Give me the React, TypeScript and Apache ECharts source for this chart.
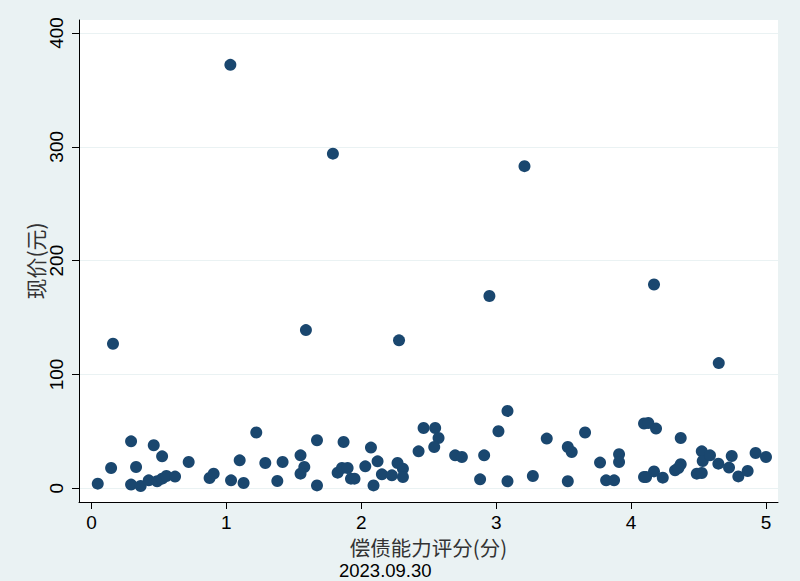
import React, { useEffect, useRef } from "react";
import * as echarts from "echarts";

const scoreX: number[] = [
  0.047, 0.146, 0.294, 0.331, 0.294, 0.365, 0.462, 0.524, 0.425, 0.487, 0.524, 0.556, 0.62, 0.721, 0.876, 0.906,
  1.035, 1.099, 1.128, 1.222, 1.289, 1.378, 1.417, 1.55, 1.578, 1.55, 1.672, 1.672, 1.869, 1.825, 1.857, 1.899, 1.924, 1.95,
  2.03, 2.072, 2.091, 2.121, 2.153, 2.227, 2.269, 2.309, 2.309, 2.425, 2.462, 2.548, 2.573, 2.541, 2.696, 2.746, 2.881, 2.911, 3.017,
  3.084, 3.084, 3.272, 3.375, 3.531, 3.56, 3.531, 3.659, 3.77, 3.815, 3.874, 3.911, 3.911, 4.096, 4.096,
  4.128, 4.185, 4.111, 4.17, 4.235, 4.368, 4.326, 4.368, 4.351, 4.487, 4.524, 4.524, 4.531, 4.585, 4.647, 4.726, 4.746, 4.795, 4.864, 4.923, 5.0,
  1.03, 1.79, 3.21, 2.95, 4.17, 0.16, 1.59, 2.28, 4.65,
];
const priceY: number[] = [
  4.1, 17.9, 41.3, 18.7, 3.3, 2.0, 37.8, 28.1, 7.0, 6.2, 8.5, 10.8, 10.3, 23.1, 9.1, 12.9,
  7.0, 24.6, 4.7, 49, 22.2, 6.4, 23.1, 29, 18.7, 12.9, 42.2, 2.6, 40.7, 13.8, 17.9, 17.9, 8.5, 8.5,
  19.3, 35.8, 2.6, 23.7, 12.3, 11.4, 22.2, 17.3, 9.9, 32.5, 53, 53, 44.2, 36.3, 29, 27.5, 7.9, 29, 50.1,
  68, 6.2, 10.8, 43.7, 36.3, 31.9, 6.2, 49, 22.6, 7.0, 7.0, 29.9, 23.1, 56.9, 9.9,
  57.4, 52.5, 9.9, 14.9, 9.4, 44.2, 15.8, 21.1, 17.9, 12.9, 13.5, 32.5, 24.0, 29, 21.7, 18.2, 28.4, 10.5, 15.2, 31, 27.5,
  372, 294, 283, 169, 179, 127, 139, 130, 110,
];
const xTicks: number[] = [0, 1, 2, 3, 4, 5];
const yTicks: number[] = [0, 100, 200, 300, 400];
const xTitle = "偿债能力评分(分)";
const yTitle = "现价(元)";
const noteText = "2023.09.30";

export default function App() {
  const ref = useRef<HTMLDivElement>(null);
  useEffect(() => {
    if (!ref.current) return;
    const chart = echarts.init(ref.current, null, { renderer: "svg" });
    const data = scoreX.map((x, i) => [x, priceY[i]]);
    chart.setOption({
      animation: false,
      backgroundColor: "#EAF2F3",
      grid: {
        left: 79,
        right: 22,
        top: 20,
        bottom: 79,
        show: true,
        backgroundColor: "#FFFFFF",
        borderWidth: 0,
      },
      title: {
        text: noteText,
        left: 339,
        top: 559,
        padding: 0,
        textStyle: { fontFamily: "Liberation Sans", fontSize: 18.5, fontWeight: "normal", color: "#000", lineHeight: 22 },
      },
      xAxis: {
        type: "value",
        min: -0.092,
        max: 5.089,
        name: xTitle,
        nameLocation: "middle",
        nameGap: 32.5,
        nameMoveOverlap: false,
        nameTextStyle: { fontFamily: "Noto Sans CJK SC", fontSize: 20.5, color: "#333", lineHeight: 24.6 },
        axisLine: { show: true, onZero: false, lineStyle: { color: "#000", width: 1 } },
        axisTick: { show: true, length: 7, customValues: xTicks, lineStyle: { color: "#000" } },
        axisLabel: { customValues: xTicks, fontFamily: "Liberation Sans", fontSize: 19, lineHeight: 22.8, color: "#000", margin: 9.5 },
        splitLine: { show: false },
      },
      yAxis: {
        type: "value",
        min: -12,
        max: 411.4,
        name: yTitle,
        nameLocation: "middle",
        nameGap: 33,
        nameMoveOverlap: false,
        nameRotate: 90,
        nameTextStyle: { fontFamily: "Noto Sans CJK SC", fontSize: 21, color: "#333", lineHeight: 22 },
        axisLine: { show: true, onZero: false, lineStyle: { color: "#000", width: 1 } },
        axisTick: { show: true, length: 7, customValues: yTicks, lineStyle: { color: "#000" } },
        axisLabel: { customValues: yTicks, rotate: 90, fontFamily: "Liberation Sans", fontSize: 19, color: "#000", margin: 13 },
        splitLine: { show: true, lineStyle: { color: "#EAF2F3", width: 1 } },
      },
      series: [
        {
          type: "scatter",
          data,
          symbol: "circle",
          symbolSize: 12,
          itemStyle: { color: "#1A476F", opacity: 1 },
        },
      ],
    });
    return () => chart.dispose();
  }, []);
  return <div ref={ref} style={{ position: "fixed", left: 0, top: 0, width: 800, height: 581 }} />;
}
